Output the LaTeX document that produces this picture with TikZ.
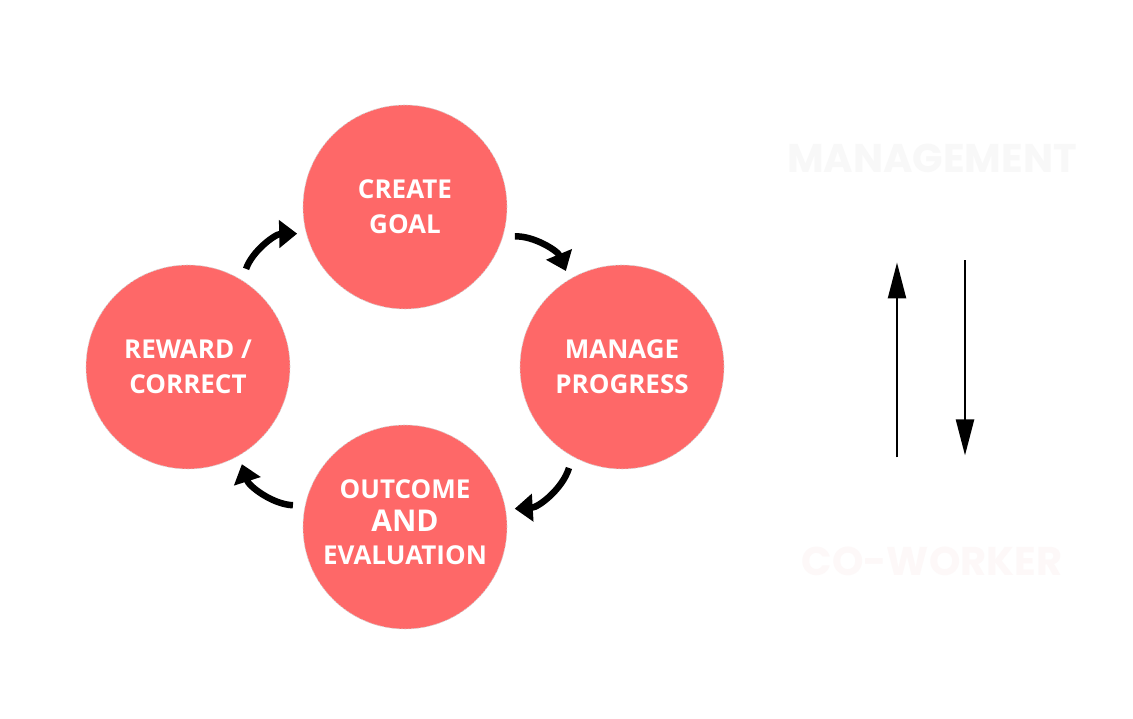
\documentclass[tikz,border=0pt]{standalone}
\usepackage{fontspec}
\setsansfont{Open Sans}
\newfontfamily\headfont{Poppins}
\usetikzlibrary{arrows.meta,positioning}
\definecolor{stagered}{HTML}{FE6868}
\definecolor{faintgray}{HTML}{F8F8F8}
\definecolor{faintpink}{HTML}{FDF8F8}
\tikzset{
  stage/.style={circle,fill=stagered,draw=black!18,line width=0.6pt,dash pattern=on 2pt off 1.2pt,minimum size=204pt,inner sep=0pt,align=center,text=white,font=\sffamily\bfseries\fontsize{26}{35}\selectfont},
  cyclearrow/.style={-{Triangle[length=18pt,width=27pt]},line width=6.5pt,black,shorten <=12pt,shorten >=9pt},
  rolelabel/.style={font=\headfont\bfseries\fontsize{40}{42}\selectfont,inner sep=0pt},
  flowarrow/.style={-{Triangle[length=36pt,width=18pt]},line width=2.4pt,black}
}
\begin{document}
\begin{tikzpicture}[x=1pt,y=1pt]
  \useasboundingbox[fill=white] (0,0) rectangle (1133,718);
  \node[stage] (goal) at (405,511) {CREATE\\GOAL};
  \node[stage] (progress) at (622,351) {MANAGE\\PROGRESS};
  \node[stage,font=\sffamily\bfseries\fontsize{26}{33}\selectfont] (outcome) at (405,191)
    {OUTCOME\\{\fontsize{30}{33}\selectfont AND}\\EVALUATION\\[-23pt]};
  \node[stage] (reward) at (188,351) {REWARD /\\CORRECT};

  \draw[cyclearrow] (goal.-17) to[bend left=35] (progress.121);
  \draw[cyclearrow] (progress.-119) to[bend left=35] (outcome.10);
  \draw[cyclearrow] (outcome.168) to[bend left=35] (reward.-60);
  \draw[cyclearrow] (reward.58) to[bend left=35] (goal.195);

  \node[rolelabel,text=faintgray] (mgmt) at (932,560) {MANAGEMENT};
  \node[rolelabel,text=faintpink] (cowork) at (932,157) {CO-WORKER};

  \draw[flowarrow,shorten <=89pt,shorten >=90pt] ([xshift=-35pt]cowork.north) -- ([xshift=-35pt]mgmt.south);
  \draw[flowarrow,shorten <=88pt,shorten >=91pt] ([xshift=33pt]mgmt.south) -- ([xshift=33pt]cowork.north);
\end{tikzpicture}
\end{document}
